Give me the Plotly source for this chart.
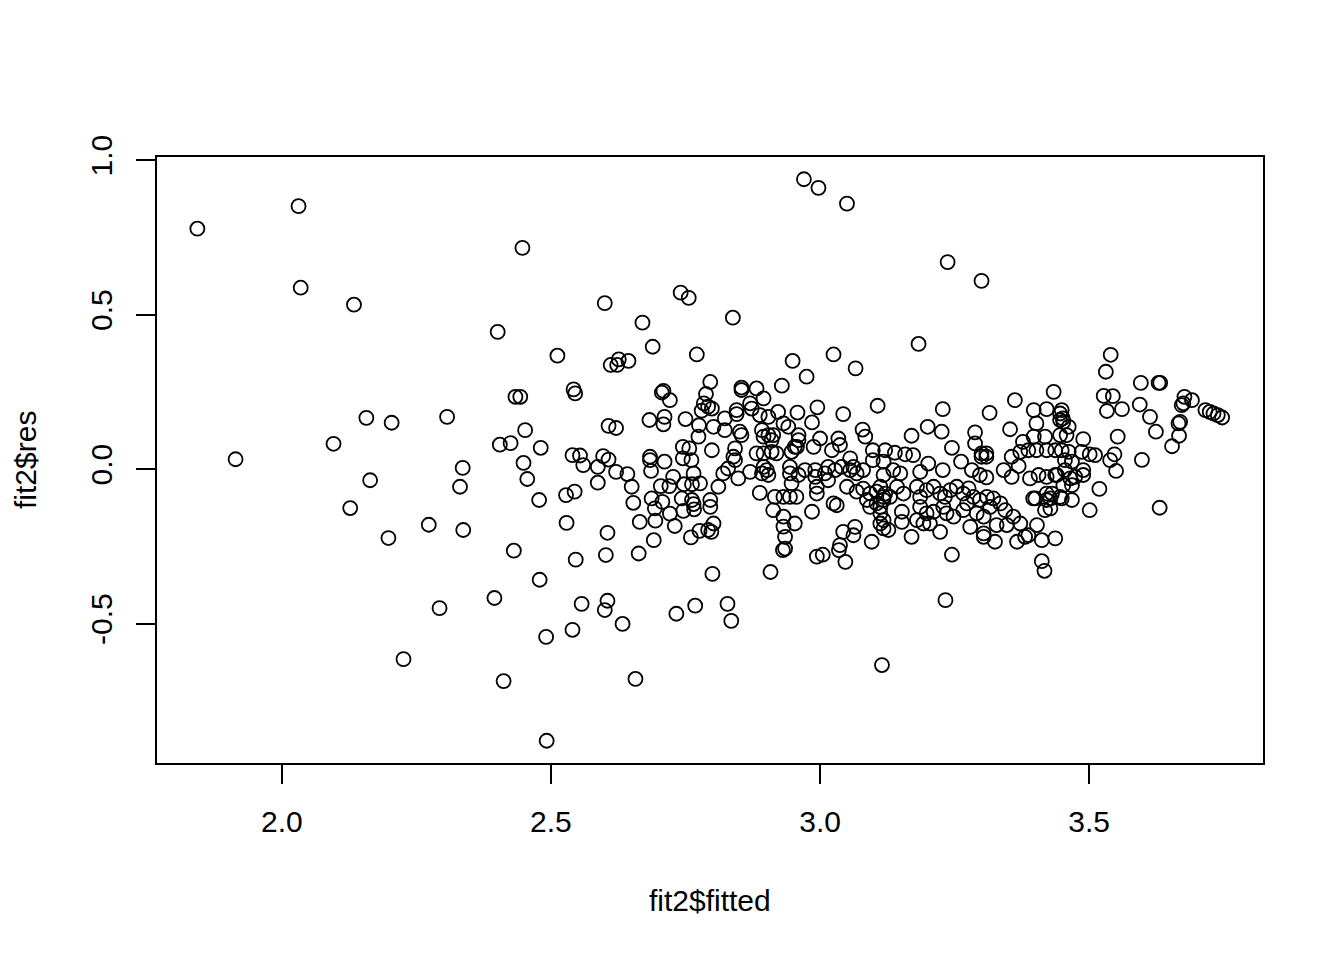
import plotly.graph_objects as go

fitted = [
1.843,2.031,2.035,1.914,2.134,2.096,2.157,2.164,2.127,2.204,2.198,2.273,2.307,2.336,2.331,2.337,2.293,2.226,2.401,2.447,
2.405,2.425,2.434,2.443,2.452,2.449,2.456,2.481,2.478,2.431,2.479,2.395,2.491,2.412,2.492,
2.970,2.997,3.050,2.600,2.741,2.756,2.670,2.838,2.689,2.512,2.771,2.949,3.025,3.066,2.626,2.644,2.611,2.623,3.237,3.300,
3.183,3.540,3.531,
2.546,2.602,2.663,2.557,2.605,2.600,2.540,2.633,2.733,2.768,2.828,2.835,2.800,2.908,2.657,2.931,2.994,3.005,3.035,3.047,
3.115,3.245,3.412,3.417,3.233,
2.542,2.545,2.709,2.706,2.721,2.796,2.788,2.784,2.792,2.799,2.780,2.607,2.621,2.683,2.711,2.709,2.750,2.775,2.802,2.774,
2.745,2.757,2.799,2.540,2.554,2.597,2.607,2.560,2.587,2.684,2.684,2.686,2.711,2.745,2.761,2.621,2.642,2.587,2.650,2.727,
2.720,2.704,2.765,2.777,2.762,2.747,2.528,2.544,2.653,2.687,2.707,2.743,2.762,2.765,2.796,2.796,2.693,2.721,2.746,2.766,
2.529,2.665,2.694,2.730,2.802,2.792,2.776,2.605,2.691,2.760,
2.975,2.854,2.854,2.882,2.929,2.895,2.870,2.873,2.845,2.845,2.995,3.107,3.043,2.922,2.958,2.888,2.904,2.823,2.823,2.985,
2.932,2.941,3.079,3.084,2.851,2.854,2.892,2.895,2.904,2.913,2.910,2.960,2.960,2.957,3.000,3.034,3.037,2.842,2.839,2.842,
2.882,2.895,2.910,2.919,2.947,2.953,2.988,3.022,3.056,3.062,3.098,3.098,3.121,3.118,2.820,2.829,2.848,2.870,2.895,2.901,
2.904,2.892,2.944,2.944,2.947,2.960,2.972,2.991,2.991,3.009,3.015,3.028,3.040,3.056,3.068,3.080,2.994,2.994,3.015,3.050,
3.068,3.080,3.093,3.105,3.118,3.087,3.105,3.112,3.093,2.811,2.888,2.916,2.932,2.944,2.956,2.913,2.985,3.025,3.031,2.932,
2.932,2.953,2.935,2.935,2.798,3.043,3.062,3.065,3.096,3.037,3.112,3.118,
3.434,3.362,3.228,3.315,3.397,3.421,3.446,3.446,3.402,3.200,3.226,3.170,3.288,3.288,3.353,3.418,3.397,3.377,3.245,3.139,
3.158,3.173,3.300,3.309,3.300,3.309,3.356,3.372,3.387,3.402,3.421,3.437,3.369,3.341,3.356,3.262,3.228,3.201,3.186,3.282,
3.297,3.309,3.390,3.406,3.421,3.440,3.149,3.136,3.118,
3.112,3.121,3.118,3.130,3.143,3.155,3.180,3.186,3.198,3.211,3.223,3.232,3.242,3.254,3.266,3.276,3.285,3.297,3.310,3.322,
3.186,3.198,3.211,3.229,3.235,3.248,3.266,3.273,3.291,3.304,3.316,3.335,3.344,3.359,3.372,3.396,3.418,3.428,
3.170,3.223,3.279,3.304,3.304,3.325,3.328,3.347,3.366,3.381,3.387,3.403,3.412,3.437,3.421,3.421,3.400,3.446,3.112,3.118,
3.127,3.152,3.152,3.180,3.192,3.204,
3.596,3.629,3.632,3.527,3.544,3.594,3.533,3.561,3.613,3.677,3.691,3.675,3.672,3.716,3.724,3.731,3.739,3.747,3.669,3.666,
3.624,3.667,3.654,3.553,3.598,3.547,3.539,3.550,3.501,3.511,3.489,3.519,3.501,3.631,3.449,3.451,3.452,3.462,3.446,3.458,
3.449,3.462,3.486,3.455,3.468,3.455,3.489,3.489,3.437,3.465,3.474,3.452,3.468,3.431,3.449,3.468,3.428,
]

res = [
0.778,0.851,0.587,0.032,0.532,0.082,0.166,-0.036,-0.126,0.150,-0.223,-0.180,0.169,0.004,-0.057,-0.197,-0.450,-0.615,0.444,0.716,
0.079,0.084,0.234,0.234,0.126,0.020,-0.032,0.069,-0.100,-0.264,-0.358,-0.417,-0.543,-0.686,-0.879,
0.938,0.910,0.859,0.537,0.571,0.554,0.474,0.490,0.396,0.367,0.371,0.350,0.371,0.326,0.355,0.350,0.337,0.337,0.670,0.609,
0.405,0.370,0.315,
-0.293,-0.278,-0.273,-0.436,-0.426,-0.456,-0.520,-0.501,-0.468,-0.442,-0.436,-0.491,-0.339,-0.333,-0.679,-0.262,-0.283,-0.277,-0.262,-0.300,
-0.634,-0.277,-0.298,-0.329,-0.424,
0.258,0.245,0.253,0.248,0.223,0.282,0.243,0.213,0.202,0.196,0.189,0.140,0.133,0.159,0.169,0.145,0.162,0.142,0.137,0.105,
0.072,0.067,0.061,0.045,0.044,0.042,0.031,0.013,0.007,0.040,0.029,-0.006,0.024,0.035,0.029,-0.009,-0.016,-0.044,-0.057,-0.025,
-0.055,-0.055,-0.014,-0.046,-0.049,-0.049,-0.084,-0.073,-0.109,-0.095,-0.106,-0.095,-0.100,-0.113,-0.100,-0.122,-0.127,-0.144,-0.135,-0.130,
-0.174,-0.171,-0.167,-0.184,-0.176,-0.197,-0.200,-0.206,-0.230,-0.221,
0.299,0.264,0.256,0.261,0.270,0.229,0.213,0.196,0.191,0.178,0.200,0.205,0.178,0.185,0.183,0.175,0.169,0.164,0.126,0.151,
0.148,0.137,0.128,0.105,0.121,0.110,0.126,0.105,0.110,0.110,0.094,0.110,0.094,0.072,0.099,0.099,0.078,0.067,0.040,0.029,
0.051,0.051,0.056,0.051,0.056,0.072,0.072,0.061,0.035,0.007,0.061,0.029,0.061,0.024,-0.014,0.002,-0.030,-0.009,0.007,-0.003,
-0.019,-0.014,0.007,-0.014,-0.046,-0.019,-0.003,-0.003,-0.025,-0.014,0.007,-0.003,0.007,-0.003,-0.014,-0.003,-0.057,-0.079,-0.036,-0.057,
-0.073,-0.063,-0.079,-0.073,-0.090,-0.100,-0.111,-0.122,-0.122,-0.057,-0.077,-0.090,-0.090,-0.090,-0.090,-0.133,-0.138,-0.111,-0.117,-0.154,
-0.186,-0.176,-0.219,-0.257,-0.203,-0.203,-0.214,-0.187,-0.235,-0.246,-0.176,-0.192,
0.250,0.223,0.194,0.182,0.191,0.194,0.180,0.159,0.148,0.137,0.121,0.108,0.119,0.083,0.129,0.105,0.105,0.088,0.069,0.053,
0.048,0.045,0.051,0.051,0.040,0.040,0.040,0.056,0.061,0.061,0.061,0.061,0.010,-0.003,-0.025,0.024,-0.003,0.018,-0.009,-0.003,
-0.019,-0.027,-0.030,-0.019,-0.025,-0.019,-0.014,-0.003,-0.019,
-0.057,-0.079,-0.100,-0.090,-0.057,-0.079,-0.057,-0.090,-0.068,-0.057,-0.079,-0.090,-0.068,-0.057,-0.079,-0.062,-0.090,-0.100,-0.090,-0.095,
-0.122,-0.143,-0.138,-0.122,-0.143,-0.154,-0.133,-0.111,-0.143,-0.154,-0.122,-0.111,-0.133,-0.154,-0.176,-0.095,-0.133,-0.095,
-0.219,-0.203,-0.187,-0.208,-0.219,-0.235,-0.181,-0.181,-0.235,-0.219,-0.214,-0.181,-0.230,-0.224,-0.079,-0.100,-0.095,-0.090,-0.143,-0.165,
-0.197,-0.138,-0.171,-0.165,-0.176,-0.176,
0.279,0.279,0.279,0.237,0.236,0.209,0.188,0.194,0.169,0.234,0.223,0.213,0.207,0.191,0.185,0.180,0.175,0.167,0.153,0.148,
0.121,0.108,0.074,0.105,0.030,0.048,0.029,-0.006,0.048,0.045,0.097,-0.064,-0.133,-0.125,0.191,0.164,0.153,0.137,0.110,0.110,
0.061,0.056,0.056,0.029,0.024,-0.003,-0.003,-0.019,-0.019,-0.030,-0.025,-0.052,-0.052,-0.079,-0.095,-0.100,-0.127,
]

x_ticks = [2.0, 2.5, 3.0, 3.5]
x_tick_labels = ["2.0", "2.5", "3.0", "3.5"]
y_ticks = [-0.5, 0.0, 0.5, 1.0]
y_tick_labels = ["-0.5", "0.0", "0.5", "1.0"]

n = min(len(fitted), len(res))
fig = go.Figure(go.Scatter(
    x=fitted[:n], y=res[:n], mode="markers",
    marker=dict(symbol="circle-open", size=14, color="black", line=dict(width=1.8, color="black")),
    showlegend=False, hoverinfo="skip",
))

font = dict(family="Liberation Sans, Arial, sans-serif", size=30, color="black")
axis_common = dict(
    showgrid=False, zeroline=False, showline=True, linecolor="black", linewidth=2,
    mirror=True, ticks="outside", ticklen=19, tickwidth=2, tickcolor="black",
    tickfont=font,
)
fig.update_layout(
    width=1344, height=960,
    margin=dict(l=157, r=81, t=157, b=197),
    paper_bgcolor="white", plot_bgcolor="white",
    font=font,
    xaxis=dict(range=[1.768, 3.823], tickvals=x_ticks, ticktext=x_tick_labels,
               ticklabelstandoff=12, **axis_common),
    yaxis=dict(range=[-0.951, 1.010], tickvals=y_ticks, ticktext=y_tick_labels,
               tickangle=-90, ticklabelstandoff=12, **axis_common),
    annotations=[
        dict(text="fit2$fitted", xref="paper", yref="paper", x=0.5, y=0,
             xanchor="center", yanchor="middle", yshift=-137, showarrow=False, font=font),
        dict(text="fit2$res", xref="paper", yref="paper", x=0, y=0.5,
             xanchor="center", yanchor="middle", xshift=-132, textangle=-90,
             showarrow=False, font=font),
    ],
)
fig.write_html("out.html")
